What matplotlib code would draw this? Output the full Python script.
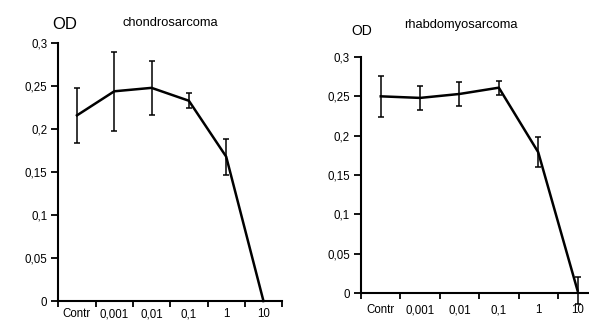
import matplotlib.pyplot as plt
import numpy as np

plt.rcParams['font.family'] = ['Liberation Sans', 'DejaVu Sans']

# concentrations (x categories)
doses = ['Contr', '0,001', '0,01', '0,1', '1', '10']

# chondrosarcoma
chondro_od = [0.216, 0.244, 0.248, 0.233, 0.168, 0.0]
chondro_err = [0.032, 0.046, 0.031, 0.009, 0.021, 0.0]

# rhabdomyosarcoma
rhabdo_od = [0.250, 0.248, 0.253, 0.261, 0.179, 0.003]
rhabdo_err = [0.026, 0.015, 0.015, 0.009, 0.019, 0.017]

yticks = [0, 0.05, 0.1, 0.15, 0.2, 0.25, 0.3]
ytick_labels = ['0', '0,05', '0,1', '0,15', '0,2', '0,25', '0,3']


def draw_panel(ax, od, err, xpad):
    x = np.arange(len(doses))
    ax.errorbar(x, od, yerr=err, color='black', lw=1.8, elinewidth=1.1,
                capsize=2.5, capthick=1.1, clip_on=False)
    ax.set_xlim(-0.5, len(doses) - 0.5)
    ax.set_ylim(0, 0.3)
    for s in ['top', 'right']:
        ax.spines[s].set_visible(False)
    for s in ['left', 'bottom']:
        ax.spines[s].set_linewidth(1.5)
    ax.set_yticks(yticks)
    ax.set_yticklabels(ytick_labels, fontsize=8.3)
    ax.tick_params(axis='y', length=5, width=1.3, pad=3)
    # boundary ticks without labels, labels under each point
    ax.set_xticks(np.arange(len(doses) + 1) - 0.5)
    ax.set_xticklabels([])
    ax.tick_params(axis='x', which='major', length=4, width=1.3)
    ax.set_xticks(x, minor=True)
    ax.set_xticklabels(doses, minor=True, fontsize=8.3)
    ax.tick_params(axis='x', which='minor', length=0, pad=xpad)


fig = plt.figure(figsize=(5.89, 3.22), dpi=100)

ax1 = fig.add_axes([0.099, 0.065, 0.380, 0.801])
draw_panel(ax1, chondro_od, chondro_err, 5)
fig.text(0.088, 0.925, 'OD', fontsize=12, ha='left', va='center')
fig.text(0.290, 0.928, 'chondrosarcoma', fontsize=9.3, ha='center', va='center')

ax2 = fig.add_axes([0.613, 0.090, 0.401, 0.733])
draw_panel(ax2, rhabdo_od, rhabdo_err, 8)
fig.text(0.597, 0.905, 'OD', fontsize=10, ha='left', va='center')
fig.text(0.782, 0.922, 'rhabdomyosarcoma', fontsize=9.3, ha='center', va='center')

fig.savefig('out.png', dpi=100)
